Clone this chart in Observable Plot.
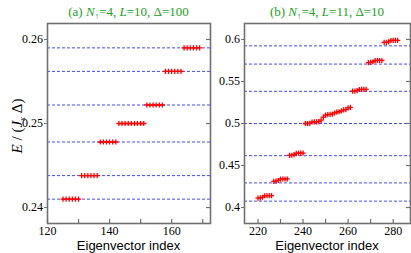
<!DOCTYPE html>
<html>
<head>
<meta charset="utf-8">
<script src="https://cdn.jsdelivr.net/npm/d3@7"></script>
<script src="https://cdn.jsdelivr.net/npm/@observablehq/plot@0.6"></script>
<style>
  html, body { margin: 0; padding: 0; background: #fff; }
  #wrap { position: relative; width: 411px; height: 253px; overflow: hidden; background: #fff; }
  .panel { position: absolute; top: 0; }
  .title { position: absolute; top: 5px; text-align: center; color: #22a022;
           font-family: "Liberation Serif", "Times New Roman", serif; font-size: 13px; line-height: 13px; white-space: nowrap; }
  .xlab { position: absolute; top: 240px; text-align: center;
          font-family: "Liberation Sans", Arial, sans-serif; font-size: 13px; line-height: 11px; white-space: nowrap; }
  .ylab { position: absolute; left: 18px; top: 126px; transform: translate(-50%, -50%) rotate(-90deg);
          font-family: "Liberation Serif", "Times New Roman", serif; font-size: 15px; line-height: 15px; white-space: nowrap; }
  .sub { position: relative; top: 3px; font-size: 9px; }
  svg text { font-family: "Liberation Serif", "Times New Roman", serif; }
</style>
</head>
<body>
<div id="wrap">
  <div id="pa" class="panel" style="left:0px"></div>
  <div id="pb" class="panel" style="left:200px"></div>
  <div class="title" style="left:47px;width:163px">(a) <i>N</i><span class="sub">↑</span>=4, <i>L</i>=10, Δ=100</div>
  <div class="title" style="left:244px;width:166px">(b) <i>N</i><span class="sub">↑</span>=4, <i>L</i>=11, Δ=10</div>
  <div class="xlab" style="left:47px;width:163px">Eigenvector index</div>
  <div class="xlab" style="left:244px;width:166px">Eigenvector index</div>
  <div class="ylab"><i>E</i> / (<i>J</i><span class="sub" style="font-style:italic">x</span> Δ)</div>
</div>
<script>
// ---------- Panel (a): N=4, L=10, Delta=100 ----------
const xA = [125,126,127,128,129,130,131,132,133,134,135,136,137,138,139,140,141,142,
            143,144,145,146,147,148,149,150,151,152,153,154,155,156,157,158,159,160,
            161,162,163,164,165,166,167,168,169];
const yA = [0.2410,0.2410,0.2410,0.2410,0.2410,0.2410,
            0.2438,0.2438,0.2438,0.2438,0.2438,0.2438,
            0.2478,0.2478,0.2478,0.2478,0.2478,0.2478,
            0.2500,0.2500,0.2500,0.2500,0.2500,0.2500,0.2500,0.2500,0.2500,
            0.2522,0.2522,0.2522,0.2522,0.2522,0.2522,
            0.2562,0.2562,0.2562,0.2562,0.2562,0.2562,
            0.2590,0.2590,0.2590,0.2590,0.2590,0.2590];
const linesA = [0.2590, 0.2562, 0.2522, 0.2478, 0.2438, 0.2410];
const xTicksA = [120,130,140,150,160,170];
const xLabelsA = [120,140,160];
const yTicksA = [0.24,0.25,0.26];

// ---------- Panel (b): N=4, L=11, Delta=10 ----------
const xB = [220,221,222,223,224,225,226,227,228,229,230,231,232,233,234,235,236,237,238,239,240,
            241,242,243,244,245,246,247,248,249,250,251,252,253,254,255,256,257,258,259,260,261,
            262,263,264,265,266,267,268,269,270,271,272,273,274,275,276,277,278,279,280,281,282];
const yB = [0.4112,0.4114,0.4122,0.4140,0.4142,0.4142,0.4142,
            0.4312,0.4314,0.4322,0.4338,0.4340,0.4340,0.4340,
            0.4620,0.4622,0.4630,0.4645,0.4647,0.4647,0.4647,
            0.5000,0.5000,0.5002,0.5018,0.5020,0.5020,0.5022,0.5040,0.5075,0.5100,0.5105,
            0.5108,0.5112,0.5125,0.5135,0.5140,0.5150,0.5162,0.5165,0.5185,0.5192,
            0.5385,0.5386,0.5392,0.5405,0.5406,0.5407,0.5407,
            0.5725,0.5727,0.5735,0.5748,0.5750,0.5750,0.5750,
            0.5965,0.5966,0.5972,0.5988,0.5990,0.5990,0.5990];
const linesB = [0.5924, 0.5707, 0.5383, 0.5000, 0.4617, 0.4293, 0.4076];
const xTicksB = [220,230,240,250,260,270,280];
const xLabelsB = [220,240,260,280];
const yTicksB = [0.4,0.45,0.5,0.55,0.6];

const RED = "#ff0000", BLUE = "#4646ff", FRAME = "#707070";
const SERIF = '"Liberation Serif", "Times New Roman", serif';
const fontStyle = {fontFamily: SERIF, fontSize: "12px",
                   background: "transparent", overflow: "visible", color: "#000"};

function panel({xs, ys, lines, xdom, ydom, xTicks, xLabels, yTicks, yFmt, width, ml, mr}) {
  const height = 253, mt = 23, mb = 30;
  const pw = width - ml - mr, ph = height - mt - mb;
  const data = xs.map((x, i) => ({x, y: ys[i]}));
  return Plot.plot({
    width, height, marginLeft: ml, marginRight: mr, marginTop: mt, marginBottom: mb,
    x: {domain: xdom}, y: {domain: ydom},
    style: fontStyle,
    marks: [
      Plot.ruleY(lines, {y: d => d, stroke: BLUE, strokeWidth: 1, strokeDasharray: "3,2"}),
      Plot.dot(data, {x: "x", y: "y", symbol: "plus", r: 1.8, stroke: RED, strokeWidth: 1.3}),
      Plot.frame({stroke: FRAME, strokeWidth: 1.6}),
      Plot.tickX(xTicks, {x: d => d, stroke: FRAME, strokeWidth: 1.2, insetTop: ph - 4}),
      Plot.tickY(yTicks, {y: d => d, stroke: FRAME, strokeWidth: 1.2, insetLeft: pw - 4}),
      Plot.axisX(xLabels, {tickSize: 0, tickPadding: 3, tickFormat: d => String(d), label: null,
                           fontFamily: SERIF, fontSize: 12}),
      Plot.axisY(yTicks, {tickSize: 3, tickPadding: 1.5, tickFormat: yFmt, stroke: FRAME, label: null,
                          fontFamily: SERIF, fontSize: 12})
    ]
  });
}

document.getElementById("pa").append(panel({
  xs: xA, ys: yA, lines: linesA, xdom: [120, 172.5], ydom: [0.2381, 0.2619],
  xTicks: xTicksA, xLabels: xLabelsA, yTicks: yTicksA, yFmt: d3.format(".2f"),
  width: 215, ml: 47, mr: 5
}));
document.getElementById("pb").append(panel({
  xs: xB, ys: yB, lines: linesB, xdom: [214, 287.7], ydom: [0.381, 0.619],
  xTicks: xTicksB, xLabels: xLabelsB, yTicks: yTicksB, yFmt: d => String(d),
  width: 211, ml: 44, mr: 1
}));
</script>
</body>
</html>
